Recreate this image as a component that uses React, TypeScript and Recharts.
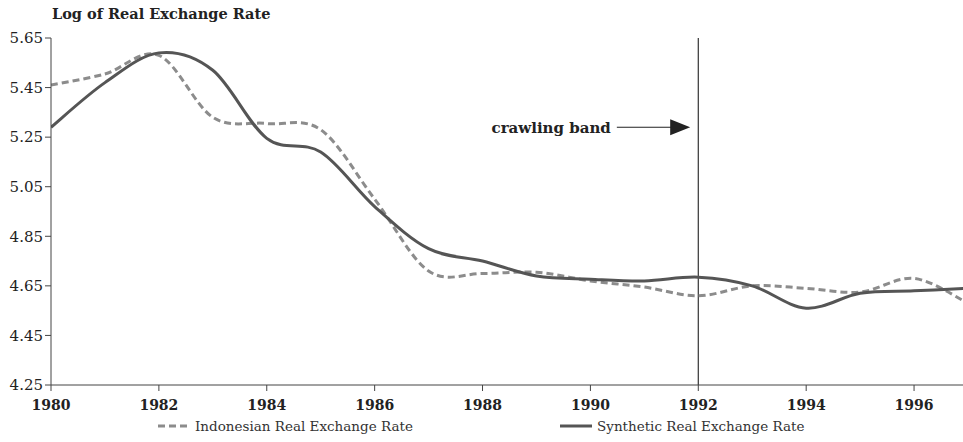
import React from "react";
import {
  LineChart,
  Line,
  XAxis,
  YAxis,
  ReferenceLine,
  ReferenceDot,
  Legend,
} from "recharts";

const years = [1980, 1981, 1982, 1983, 1984, 1985, 1986, 1987, 1988, 1989, 1990, 1991, 1992, 1993, 1994, 1995, 1996, 1997];
const indonesian = [5.46, 5.505, 5.58, 5.33, 5.305, 5.28, 5.0, 4.71, 4.7, 4.705, 4.67, 4.645, 4.61, 4.65, 4.64, 4.625, 4.68, 4.58];
const synthetic = [5.29, 5.47, 5.59, 5.52, 5.245, 5.19, 4.97, 4.8, 4.75, 4.69, 4.677, 4.67, 4.685, 4.65, 4.56, 4.62, 4.63, 4.64];
const xTicks = [1980, 1982, 1984, 1986, 1988, 1990, 1992, 1994, 1996];
const yTicks = [4.25, 4.45, 4.65, 4.85, 5.05, 5.25, 5.45, 5.65];

const data = years.map((y, i) => ({ year: y, indo: indonesian[i], synth: synthetic[i] }));

const SERIF = "'DejaVu Serif', serif";

// smooth curve through every point, like a spreadsheet "smoothed line"
const smoothCurve = (context: any) => {
  let pts: number[][] = [];
  return {
    areaStart() {},
    areaEnd() {},
    lineStart() {
      pts = [];
    },
    point(x: number, y: number) {
      pts.push([+x, +y]);
    },
    lineEnd() {
      if (!pts.length) return;
      context.moveTo(pts[0][0], pts[0][1]);
      for (let i = 0; i < pts.length - 1; i++) {
        const p0 = pts[Math.max(i - 1, 0)];
        const p1 = pts[i];
        const p2 = pts[i + 1];
        const p3 = pts[Math.min(i + 2, pts.length - 1)];
        context.bezierCurveTo(
          p1[0] + (p2[0] - p0[0]) / 6,
          p1[1] + (p2[1] - p0[1]) / 6,
          p2[0] - (p3[0] - p1[0]) / 6,
          p2[1] - (p3[1] - p1[1]) / 6,
          p2[0],
          p2[1]
        );
      }
    },
  };
};

const ArrowHead = (props: any) => {
  const { cx, cy } = props;
  if (cx == null || cy == null) return <g />;
  return <path d={`M${cx - 20},${cy - 8} L${cx},${cy} L${cx - 20},${cy + 8} Z`} fill="#222" />;
};

const LegendBox = () => (
  <div style={{ position: "relative", width: 963, height: 22, fontFamily: SERIF, fontSize: 13.5, color: "#333" }}>
    <div style={{ position: "absolute", left: 158, top: 2, display: "flex", alignItems: "center" }}>
      <svg width={34} height={8}>
        <line x1={0} y1={4} x2={32} y2={4} stroke="#8c8c8c" strokeWidth={3} strokeDasharray="7 4" />
      </svg>
      <span style={{ marginLeft: 3 }}>Indonesian Real Exchange Rate</span>
    </div>
    <div style={{ position: "absolute", left: 560, top: 2, display: "flex", alignItems: "center" }}>
      <svg width={34} height={8}>
        <line x1={0} y1={4} x2={32} y2={4} stroke="#555" strokeWidth={3} />
      </svg>
      <span style={{ marginLeft: 3 }}>Synthetic Real Exchange Rate</span>
    </div>
  </div>
);

export default function App() {
  return (
    <div style={{ position: "absolute", left: 0, top: 0, width: 963, height: 442, overflow: "hidden", background: "#fff" }}>
      <div
        style={{
          position: "absolute",
          left: 52,
          top: 5,
          fontFamily: SERIF,
          fontWeight: "bold",
          fontSize: 14.5,
          color: "#222",
        }}
      >
        Log of Real Exchange Rate
      </div>
      <LineChart width={968} height={442} data={data} margin={{ top: 38, right: 0, bottom: 0, left: 0 }}>
        <XAxis
          dataKey="year"
          type="number"
          domain={[1980, 1997]}
          ticks={xTicks}
          allowDataOverflow
          height={27}
          tickSize={6}
          tickMargin={9}
          stroke="#444"
          tick={{ fontFamily: SERIF, fontWeight: "bold", fontSize: 14, fill: "#222" }}
        />
        <YAxis
          type="number"
          domain={[4.25, 5.65]}
          ticks={yTicks}
          width={51}
          tickSize={6}
          stroke="#444"
          tickFormatter={(v: number) => v.toFixed(2)}
          tick={{ fontFamily: SERIF, fontSize: 15, fill: "#222" }}
        />
        <ReferenceLine x={1992} stroke="#333" strokeWidth={1.2} ifOverflow="visible" />
        <ReferenceLine
          segment={[
            { x: 1990.49, y: 5.29 },
            { x: 1991.5, y: 5.29 },
          ]}
          stroke="#222"
          strokeWidth={1.2}
          label={{ value: "crawling band", position: "left", offset: 6, fontFamily: SERIF, fontWeight: "bold", fontSize: 15, fill: "#222" }}
        />
        <ReferenceDot x={1991.85} y={5.29} shape={ArrowHead} />
        <Line
          type={smoothCurve as any}
          dataKey="indo"
          name="Indonesian Real Exchange Rate"
          stroke="#8c8c8c"
          strokeWidth={3}
          strokeDasharray="7 4"
          dot={false}
          isAnimationActive={false}
        />
        <Line
          type={smoothCurve as any}
          dataKey="synth"
          name="Synthetic Real Exchange Rate"
          stroke="#555"
          strokeWidth={3}
          dot={false}
          isAnimationActive={false}
        />
        <Legend
          verticalAlign="bottom"
          height={30}
          content={LegendBox}
          wrapperStyle={{ left: 0, bottom: -4, width: 963 }}
        />
      </LineChart>
    </div>
  );
}
